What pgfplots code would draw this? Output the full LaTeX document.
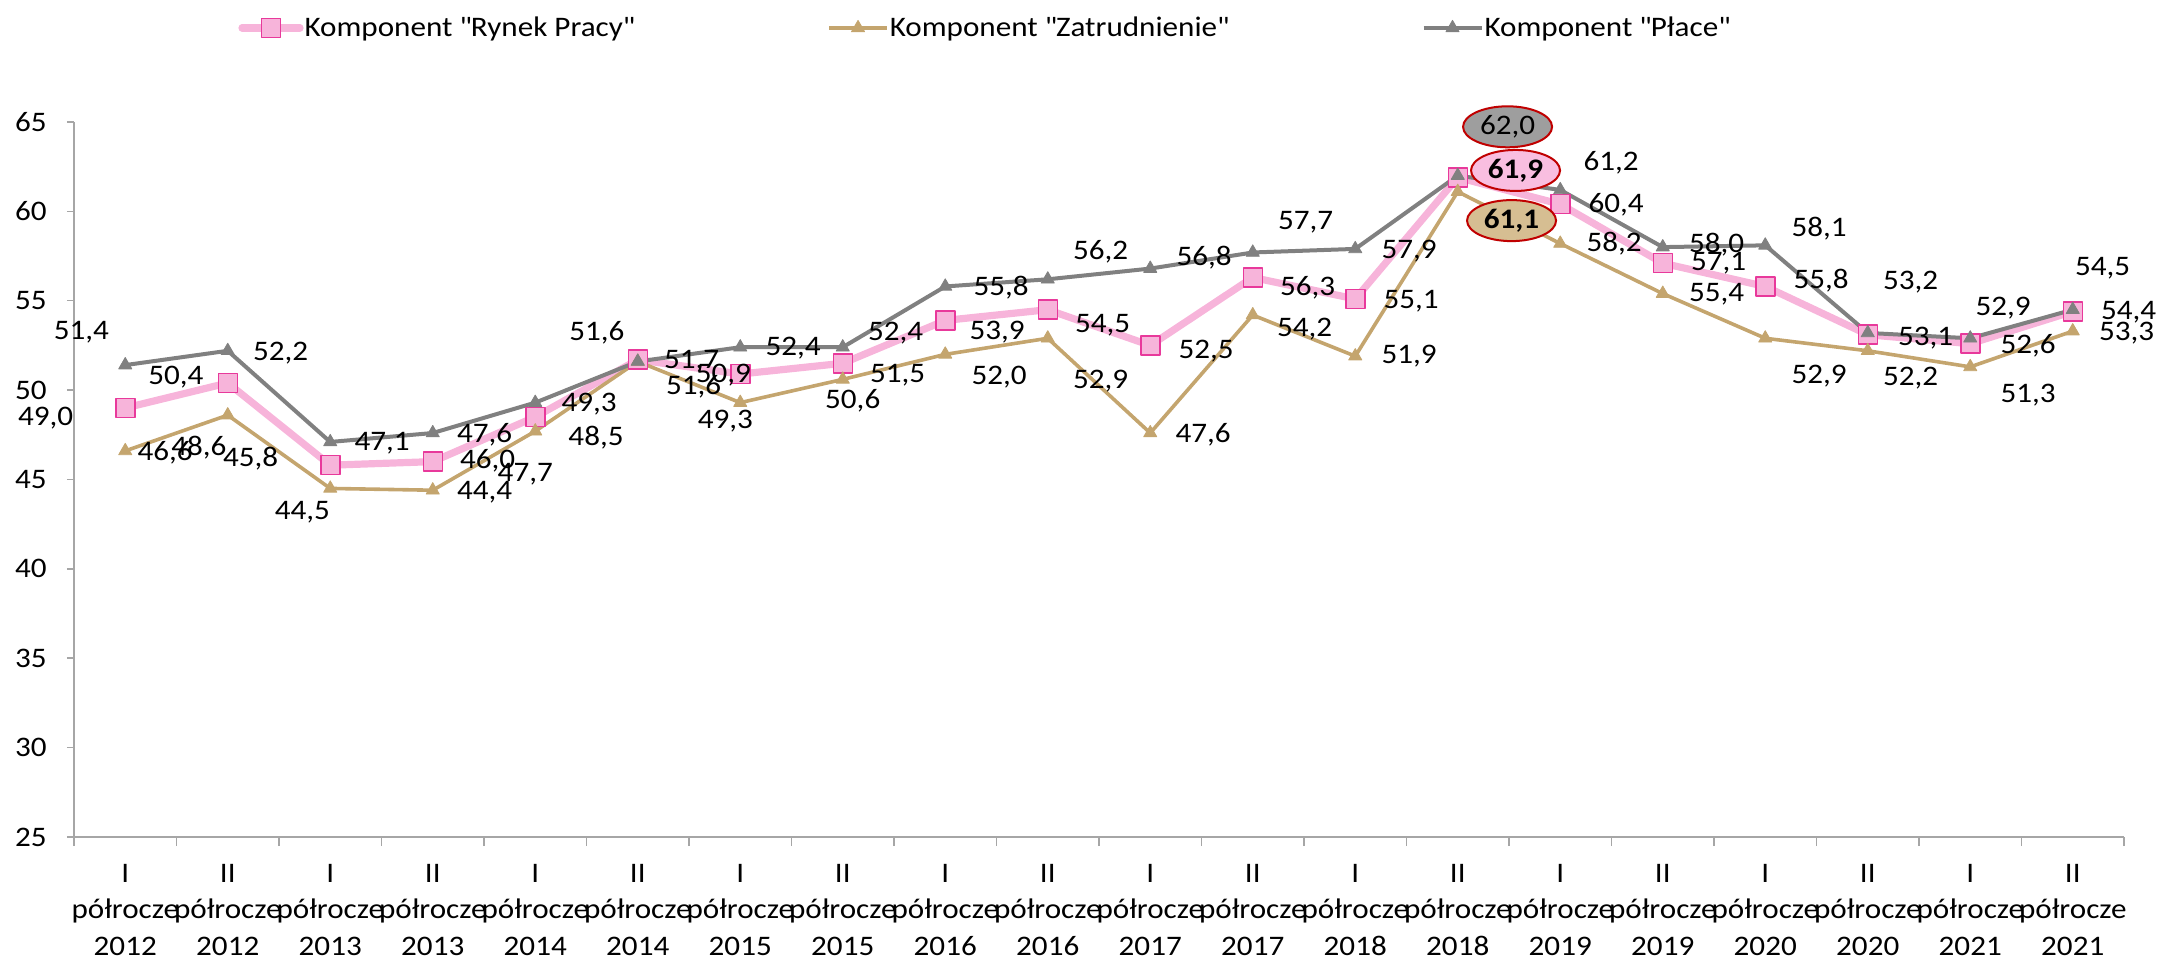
\documentclass[border=0pt]{standalone}
\usepackage{pgfplots}
\pgfplotsset{compat=1.18}
\usepackage{pgfplotstable}
\usepackage{fontspec}
\setmainfont{Carlito}[FakeStretch=1.1]
\usetikzlibrary{shapes.geometric}
\definecolor{pinkL}{HTML}{F7B4DA}
\definecolor{pinkB}{HTML}{E8399B}
\definecolor{tanL}{HTML}{C4A56E}
\definecolor{grayL}{HTML}{808080}
\definecolor{redB}{HTML}{C00000}
\definecolor{grayF}{HTML}{9E9E9E}
\definecolor{tanF}{HTML}{D6BE92}
\definecolor{pinkF}{HTML}{F9BEE0}
\definecolor{axisC}{HTML}{A6A6A6}
\newcommand{\fs}{\fontsize{14.2}{18.2}\selectfont}

\pgfplotstableread{
x y dx dy
0 49.0 -40 -5
1 50.4 -26 3
2 45.8 -40 3.5
3 46.0 27.5 0.5
4 48.5 30.5 -10.5
5 51.7 27 -0.5
6 50.9 -8.5 -0.5
7 51.5 27.5 -6
8 53.9 26 -6
9 54.5 27.5 -8
10 52.5 28 -3
11 56.3 27.5 -5
12 55.1 28 -1
13 61.9 29 3.5
14 60.4 28 -0.5
15 57.1 28 0
16 55.8 28 3
17 53.1 29 -1.5
18 52.6 29 -1
19 54.4 28 -0.5
}\rynek

\pgfplotstableread{
x y dx dy
0 46.6 20 -1
1 48.6 -14.5 -16.5
2 44.5 -14 -12
3 44.4 26 -1
4 47.7 -5 -21.5
5 51.6 28 -12.5
6 49.3 -7.5 -9.5
7 50.6 5 -10.5
8 52.0 27 -11.5
9 52.9 26.5 -21.5
10 47.6 26.5 -1
11 54.2 26 -7
12 51.9 27 0
13 61.1 27 -14.5
14 58.2 27 0
15 55.4 27 -0.5
16 52.9 27 -19
17 52.2 21.5 -13.5
18 51.3 29 -14
19 53.3 27 -1
}\zatr

\pgfplotstableread{
x y dx dy
0 51.4 -22 16.5
1 52.2 26.5 -1
2 47.1 26 -0.5
3 47.6 26 -1
4 49.3 27 -1
5 51.6 -20.5 14.5
6 52.4 26.5 -0.5
7 52.4 26.5 7
8 55.8 28 -0.5
9 56.2 26.5 14
10 56.8 27 5.5
11 57.7 26.5 15
12 57.9 27 -1
13 62.0 25 24.5
14 61.2 25.5 13.5
15 58.0 27 1
16 58.1 27 8.5
17 53.2 21.5 25.5
18 52.9 16.5 15
19 54.5 15 21
}\place

\pgfplotsset{
  lbl/.style={draw=none, mark=none, forget plot,
    skip coords between index={13}{14},
    nodes near coords={\pgfmathprintnumber[fixed,fixed zerofill,precision=1,use comma,assume math mode=true]{\pgfplotspointmeta}},
    visualization depends on={\thisrow{dx}\as\dx},
    visualization depends on={\thisrow{dy}\as\dy},
    nodes near coords style={anchor=center, inner sep=0pt, xshift=\dx, yshift=\dy, font=\fs, text=black}},
  bub/.style 2 args={draw=none, mark=none, forget plot,
    restrict x to domain=12.5:13.5,
    nodes near coords={\pgfmathprintnumber[fixed,fixed zerofill,precision=1,use comma,assume math mode=true]{\pgfplotspointmeta}},
    visualization depends on={\thisrow{dx}\as\dx},
    visualization depends on={\thisrow{dy}\as\dy},
    nodes near coords style={ellipse, draw=redB, line width=1bp, fill=#1, minimum width=44.5bp, minimum height=20.5bp, inner sep=0pt, anchor=center, xshift=\dx, yshift=\dy, font=\fs#2, text=black}},
}

\begin{document}
\begin{tikzpicture}
\useasboundingbox (0,0) rectangle (1079.5bp,479bp);
\begin{axis}[
  at={(37bp,60.5bp)}, anchor=south west,
  scale only axis, width=1025bp, height=357.5bp,
  xmin=-0.5, xmax=19.5, ymin=25, ymax=65,
  ytick={25,30,...,65},
  xtick={0,...,19},
  xticklabels={{I\\półrocze\\2012},{II\\półrocze\\2012},{I\\półrocze\\2013},{II\\półrocze\\2013},{I\\półrocze\\2014},{II\\półrocze\\2014},{I\\półrocze\\2015},{II\\półrocze\\2015},{I\\półrocze\\2016},{II\\półrocze\\2016},{I\\półrocze\\2017},{II\\półrocze\\2017},{I\\półrocze\\2018},{II\\półrocze\\2018},{I\\półrocze\\2019},{II\\półrocze\\2019},{I\\półrocze\\2020},{II\\półrocze\\2020},{I\\półrocze\\2021},{II\\półrocze\\2021}},
  minor xtick={-0.5,0.5,...,19.5},
  axis x line*=bottom, axis y line*=left,
  tick align=outside,
  major tick length=3.5bp, minor tick length=4.5bp,
  major x tick style={draw=none},
  minor x tick style={axisC, line width=0.75bp},
  ytick style={axisC, line width=0.75bp},
  axis line style={axisC, line width=0.75bp},
  tick label style={font=\fs, text=black},
  xticklabel style={align=center, anchor=north, inner sep=0pt, yshift=-10bp},
  yticklabel style={anchor=east, inner sep=0pt, xshift=-10bp},
  /pgf/number format/assume math mode=true,
  clip=false,
  legend columns=3,
  legend cell align=left,
  legend image code/.code={\draw[mark repeat=2,mark phase=2,#1] plot coordinates {(0bp,0bp) (14.5bp,0bp) (29bp,0bp)};},
  legend style={at={(axis description cs:0.0800,1.1315)}, anchor=west, draw=none, fill=none, inner sep=0pt, font=\fs, nodes={inner sep=0.5bp}, /tikz/every even column/.append style={column sep=96bp}},
]
\addplot[pinkL, line width=3.6bp, line cap=round, line join=round, mark=square*, mark size=4.75bp, mark options={fill=pinkL, draw=pinkB, line width=0.75bp, solid}] table[x=x,y=y]{\rynek};
\addlegendentry{Komponent \textquotedbl Rynek Pracy\textquotedbl}
\addplot[tanL, line width=1.8bp, line join=round, mark=triangle*, mark size=3.8bp, mark options={fill=tanL, draw=tanL, line width=0.4bp, solid}] table[x=x,y=y]{\zatr};
\addlegendentry{Komponent \textquotedbl Zatrudnienie\textquotedbl}
\addplot[grayL, line width=2bp, line join=round, mark=triangle*, mark size=3.8bp, mark options={fill=grayL, draw=grayL, line width=0.4bp, solid}] table[x=x,y=y]{\place};
\addlegendentry{Komponent \textquotedbl Płace\textquotedbl}

\addplot[lbl] table[x=x,y=y]{\rynek};
\addplot[lbl] table[x=x,y=y]{\zatr};
\addplot[lbl] table[x=x,y=y]{\place};
\addplot[bub={grayF}{}] table[x=x,y=y]{\place};
\addplot[bub={pinkF}{\bfseries}] table[x=x,y=y]{\rynek};
\addplot[bub={tanF}{\bfseries}] table[x=x,y=y]{\zatr};
\end{axis}
\end{tikzpicture}
\end{document}
